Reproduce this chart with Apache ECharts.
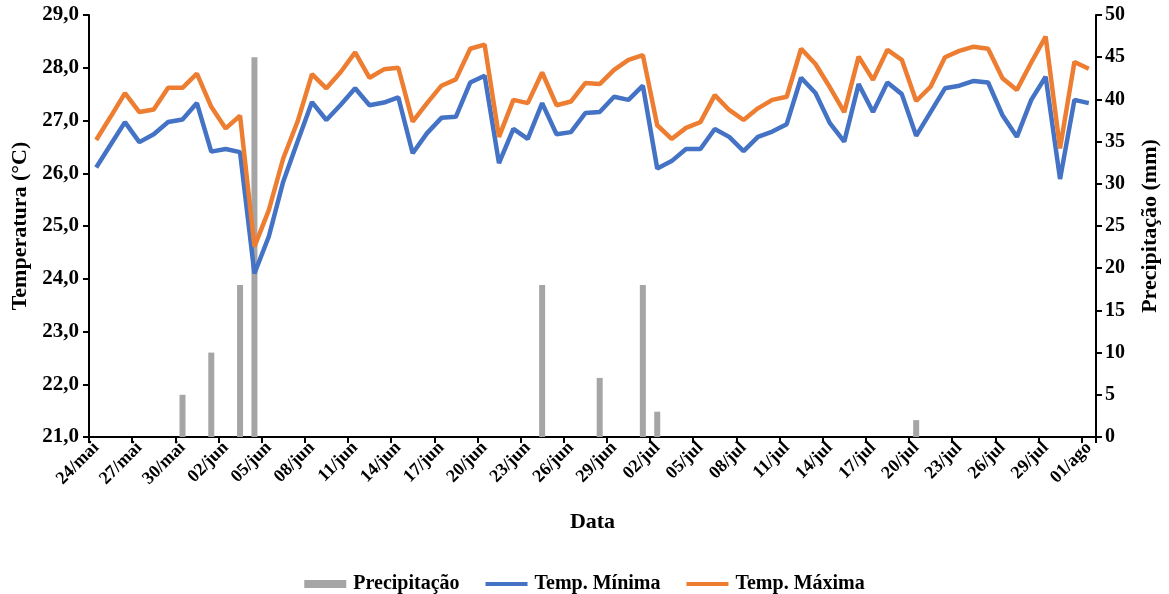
<!DOCTYPE html>
<html>
<head>
<meta charset="utf-8">
<script src="https://cdn.jsdelivr.net/npm/echarts@6/dist/echarts.min.js"></script>
<style>
html,body{margin:0;padding:0;background:#fff;}
#chart{width:1169px;height:594px;}
</style>
</head>
<body>
<div id="chart"></div>
<script>
const dates = [
  "24/mai","25/mai","26/mai","27/mai","28/mai","29/mai","30/mai","31/mai",
  "01/jun","02/jun","03/jun","04/jun","05/jun","06/jun","07/jun","08/jun","09/jun","10/jun",
  "11/jun","12/jun","13/jun","14/jun","15/jun","16/jun","17/jun","18/jun","19/jun","20/jun",
  "21/jun","22/jun","23/jun","24/jun","25/jun","26/jun","27/jun","28/jun","29/jun","30/jun",
  "01/jul","02/jul","03/jul","04/jul","05/jul","06/jul","07/jul","08/jul","09/jul","10/jul",
  "11/jul","12/jul","13/jul","14/jul","15/jul","16/jul","17/jul","18/jul","19/jul","20/jul",
  "21/jul","22/jul","23/jul","24/jul","25/jul","26/jul","27/jul","28/jul","29/jul","30/jul",
  "31/jul","01/ago"
];

const precipitacao = [
  0,0,0,0,0,0,5,0,10,0,
  18,45,0,0,0,0,0,0,0,0,
  0,0,0,0,0,0,0,0,0,0,
  0,18,0,0,0,7,0,0,18,3,
  0,0,0,0,0,0,0,0,0,0,
  0,0,0,0,0,0,0,2,0,0,
  0,0,0,0,0,0,0,0,0,0
];

const tempMinima = [
  26.11,26.54,26.97,26.59,26.74,26.97,27.02,27.33,26.41,26.46,
  26.40,24.10,24.80,25.84,26.60,27.35,27.01,27.30,27.61,27.29,
  27.34,27.44,26.38,26.76,27.05,27.07,27.72,27.85,26.19,26.84,
  26.65,27.33,26.74,26.78,27.14,27.16,27.45,27.39,27.66,26.09,
  26.23,26.46,26.46,26.84,26.69,26.42,26.69,26.79,26.93,27.81,
  27.52,26.95,26.60,27.69,27.16,27.72,27.50,26.71,27.16,27.61,
  27.66,27.75,27.72,27.10,26.69,27.39,27.83,25.89,27.39,27.33
];

const tempMaxima = [
  26.63,27.07,27.52,27.16,27.21,27.62,27.62,27.89,27.26,26.85,
  27.09,24.61,25.30,26.28,26.98,27.88,27.61,27.92,28.29,27.81,
  27.97,28.00,26.98,27.33,27.66,27.78,28.36,28.44,26.69,27.39,
  27.33,27.91,27.29,27.36,27.71,27.69,27.96,28.15,28.24,26.91,
  26.65,26.86,26.97,27.48,27.20,27.01,27.23,27.39,27.45,28.36,
  28.07,27.63,27.16,28.21,27.77,28.34,28.15,27.37,27.64,28.20,
  28.32,28.40,28.36,27.80,27.58,28.10,28.59,26.47,28.11,27.98
];

const FONT = 'Liberation Serif';
const chart = echarts.init(document.getElementById('chart'), null, {renderer:'canvas'});

const axisLineStyle = {show:true, lineStyle:{color:'#000', width:2}};
const lineIcon = 'path://M0,0 L44,0 L44,4.4 L0,4.4 Z';

chart.setOption({
  animation:false,
  backgroundColor:'#fff',
  textStyle:{fontFamily:FONT, fontWeight:'bold', color:'#000'},
  grid:{left:89, right:73, top:15, bottom:157, containLabel:false},
  legend:{
    top:569, left:'center',
    itemWidth:42, itemHeight:8, itemGap:26,
    textStyle:{fontFamily:FONT, fontWeight:'bold', fontSize:20, color:'#000', padding:[0,0,0,2]},
    data:[
      {name:'Precipitação', icon:'rect'},
      {name:'Temp. Mínima', icon:lineIcon},
      {name:'Temp. Máxima', icon:lineIcon}
    ]
  },
  xAxis:{
    type:'category',
    data:dates,
    boundaryGap:true,
    name:'Data',
    nameLocation:'middle',
    nameGap:74,
    nameTextStyle:{fontFamily:FONT, fontWeight:'bold', fontSize:22, color:'#000'},
    axisLine:axisLineStyle,
    axisTick:{show:true, interval:2, length:6, inside:false, lineStyle:{color:'#000', width:2}},
    axisLabel:{interval:2, rotate:45, margin:8, fontFamily:FONT, fontWeight:'bold', fontSize:18, color:'#000'},
    splitLine:{show:false}
  },
  yAxis:[
    {
      type:'value', min:21, max:29, interval:1, position:'left',
      name:'Temperatura (°C)', nameLocation:'middle', nameGap:57, nameRotate:90,
      nameTextStyle:{fontFamily:FONT, fontWeight:'bold', fontSize:22, color:'#000'},
      axisLine:axisLineStyle,
      axisTick:{show:true, length:6, lineStyle:{color:'#000', width:2}},
      axisLabel:{margin:10, fontFamily:FONT, fontWeight:'bold', fontSize:21, color:'#000',
        formatter:v=>v.toFixed(1).replace('.', ',')},
      splitLine:{show:false}
    },
    {
      type:'value', min:0, max:50, interval:5, position:'right',
      name:'Precipitação (mm)', nameLocation:'middle', nameGap:43, nameRotate:90,
      nameTextStyle:{fontFamily:FONT, fontWeight:'bold', fontSize:22, color:'#000'},
      axisLine:axisLineStyle,
      axisTick:{show:true, length:6, lineStyle:{color:'#000', width:2}},
      axisLabel:{margin:9, fontFamily:FONT, fontWeight:'bold', fontSize:20, color:'#000'},
      splitLine:{show:false}
    }
  ],
  series:[
    {
      name:'Precipitação', type:'bar', yAxisIndex:1, data:precipitacao,
      barWidth:6, itemStyle:{color:'#A5A5A5'}, z:1
    },
    {
      name:'Temp. Mínima', type:'line', yAxisIndex:0, data:tempMinima,
      symbol:'none', lineStyle:{color:'#4472C4', width:4.5}, itemStyle:{color:'#4472C4'}, z:2
    },
    {
      name:'Temp. Máxima', type:'line', yAxisIndex:0, data:tempMaxima,
      symbol:'none', lineStyle:{color:'#ED7D31', width:4.5}, itemStyle:{color:'#ED7D31'}, z:3
    }
  ]
});
</script>
</body>
</html>
